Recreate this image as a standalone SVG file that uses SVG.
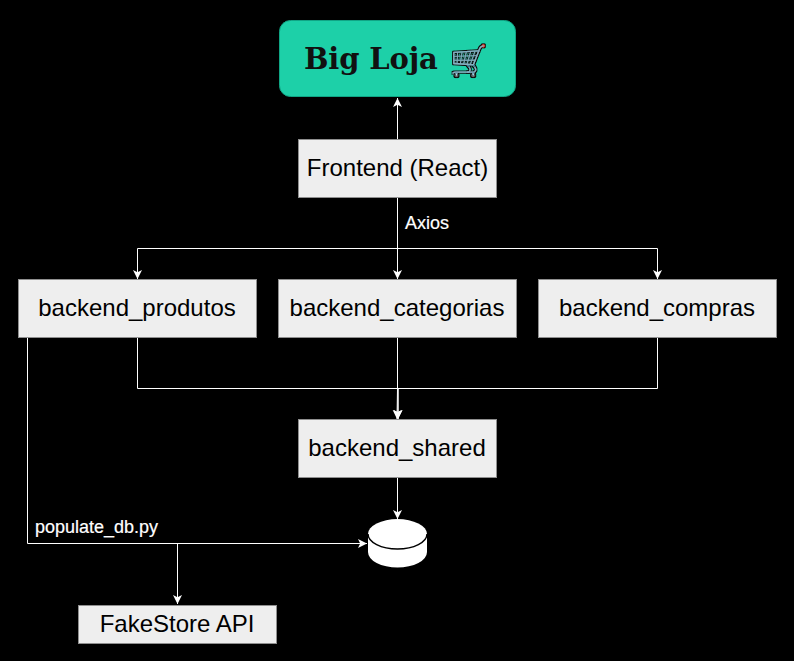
<svg xmlns="http://www.w3.org/2000/svg" width="794" height="661" viewBox="0 0 794 661">
<style>
.n{fill:#eeeeee;stroke:#8f8f8f;stroke-width:1}
.t{font-family:"Liberation Sans",Arial,sans-serif;font-size:24px;fill:#000;text-anchor:middle}
.l{font-family:"Liberation Sans",Arial,sans-serif;font-size:18px;fill:#fff}
.c{fill:none;stroke:#fff;stroke-width:1}
</style>
<defs>
<marker id="a" markerUnits="userSpaceOnUse" markerWidth="10" markerHeight="11" refX="9" refY="4.500" orient="auto"><path d="M0 0L9 4.500L0 9L2.200 4.500Z" fill="#fff"/></marker>
<filter id="outline" x="-20%" y="-20%" width="140%" height="140%"><feMorphology in="SourceAlpha" operator="dilate" radius="1" result="d"/><feFlood flood-color="#111"/><feComposite in2="d" operator="in" result="o"/><feMerge><feMergeNode in="o"/><feMergeNode in="SourceGraphic"/></feMerge></filter>
</defs>
<rect width="794" height="661" fill="#000"/>
<g id="connectors">
<path class="c" d="M397.500 139V98" marker-end="url(#a)"/>
<path class="c" d="M397.500 198V279" marker-end="url(#a)"/>
<path class="c" d="M397.500 248.500H137.500V279" marker-end="url(#a)"/>
<path class="c" d="M397.500 248.500H657.500V279" marker-end="url(#a)"/>
<path class="c" d="M137.500 338V388.500H398V419" marker-end="url(#a)"/>
<path class="c" d="M397.500 338V388.500L397 419" marker-end="url(#a)"/>
<path class="c" d="M657.500 338V388.500H398V419" marker-end="url(#a)"/>
<path class="c" d="M397.500 478V519" marker-end="url(#a)"/>
<path class="c" d="M27.500 338V543.500H367" marker-end="url(#a)"/>
<path class="c" d="M177.500 543.500V604" marker-end="url(#a)"/>
<text class="l" x="405" y="229" stroke="#fff" stroke-width="0.200">Axios</text>
<text class="l" x="35" y="533" stroke="#fff" stroke-width="0.200">populate_db.py</text>
</g>
<g id="big-loja">
<rect x="279.500" y="20.500" width="236" height="76" rx="11" fill="#1dd0a8" stroke="#10a585"/>
<text x="304" y="69" font-family="'DejaVu Serif',serif" font-size="29" font-weight="700" letter-spacing="-0.150" fill="#111">Big Loja</text>
<text x="450" y="71" font-family="'Noto Color Emoji','DejaVu Sans',sans-serif" font-size="30" filter="url(#outline)">🛒</text>
</g>
<g id="frontend"><rect class="n" x="298.500" y="139.500" width="198" height="58"/><text class="t" x="397.500" y="176">Frontend (React)</text></g>
<g id="backend-produtos"><rect class="n" x="18.500" y="279.500" width="238" height="58"/><text class="t" x="137" y="316">backend_produtos</text></g>
<g id="backend-categorias"><rect class="n" x="278.500" y="279.500" width="238" height="58"/><text class="t" x="397" y="316">backend_categorias</text></g>
<g id="backend-compras"><rect class="n" x="538.500" y="279.500" width="238" height="58"/><text class="t" x="657" y="316">backend_compras</text></g>
<g id="backend-shared"><rect class="n" x="298.500" y="419.500" width="198" height="58"/><text class="t" x="397" y="456">backend_shared</text></g>
<g id="database">
<path d="M368 534A29.500 15 0 0 1 427 534V552A29.500 15.500 0 0 1 368 552Z" fill="#fff"/>
<path d="M368 534A29.500 15 0 0 0 427 534" fill="none" stroke="#000" stroke-width="1.500"/>
</g>
<g id="fakestore"><rect class="n" x="78.500" y="605.500" width="198" height="38"/><text class="t" x="177" y="632">FakeStore API</text></g>
</svg>
